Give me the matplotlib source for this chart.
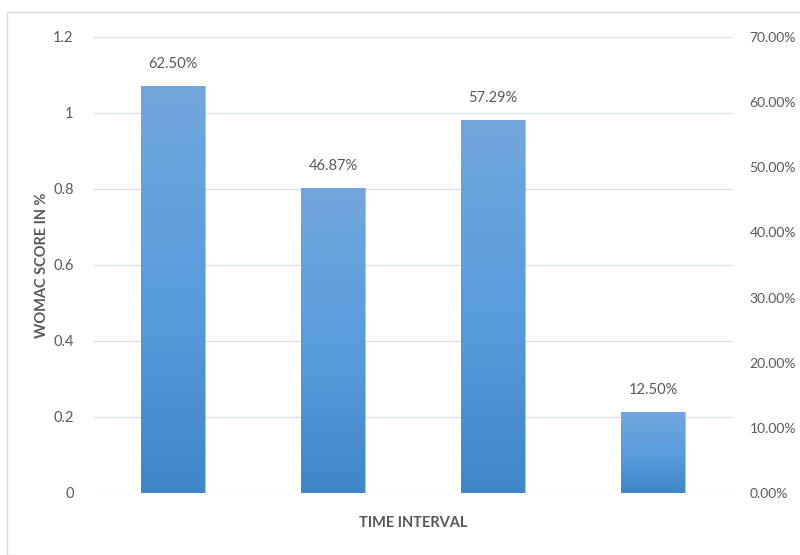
import matplotlib
matplotlib.use("Agg")
import matplotlib.pyplot as plt
import numpy as np
from matplotlib.patches import Rectangle
from matplotlib.colors import LinearSegmentedColormap

categories = ["1", "2", "3", "4"]
values_pct = [62.50, 46.87, 57.29, 12.50]
left_ticks = [0, 0.2, 0.4, 0.6, 0.8, 1, 1.2]
left_tick_labels = ["0", "0.2", "0.4", "0.6", "0.8", "1", "1.2"]
right_ticks = [0, 10, 20, 30, 40, 50, 60, 70]
right_tick_labels = ["0.00%", "10.00%", "20.00%", "30.00%", "40.00%", "50.00%", "60.00%", "70.00%"]

plt.rcParams['font.family'] = ['Lato', 'DejaVu Sans']
txt = "#595959"

fig = plt.figure(figsize=(8, 5.55), dpi=100)
fig.patches.append(Rectangle((7/800, 0), 1, 1 - 12/555, transform=fig.transFigure,
                             fill=False, edgecolor="#d9d9d9", linewidth=1.0))
ax = fig.add_axes([93/800, 1 - 493/555, 640/800, 456/555])
ax2 = ax.twinx()

ax.set_ylim(0, 1.2)
ax.set_yticks(left_ticks)
ax.set_yticklabels(left_tick_labels)
ax.set_xlim(-0.5, len(categories) - 0.5)
ax.set_xticks([])
ax.grid(axis="y", color="#dde1e8", linewidth=1.0)
ax.set_axisbelow(True)
for s in ax.spines.values():
    s.set_visible(False)
for s in ax2.spines.values():
    s.set_visible(False)
ax.tick_params(axis="y", length=0, pad=14, labelsize=10.5, labelcolor=txt)

ax2.set_ylim(0, 70)
ax2.set_yticks(right_ticks)
ax2.set_yticklabels(right_tick_labels)
ax2.tick_params(axis="y", length=0, pad=12, labelsize=10, labelcolor=txt)

cmap = LinearSegmentedColormap.from_list("g", ["#3f87c8", "#5a9ddc", "#72a7dc"])
grad = np.linspace(0, 1, 256).reshape(-1, 1)
x = np.arange(len(categories))
bars = ax2.bar(x, values_pct, width=0.4, color="none", edgecolor="#8fbbe6", linewidth=0.6)
for b, v in zip(bars, values_pct):
    x0 = b.get_x(); w = b.get_width(); h = b.get_height()
    im = ax2.imshow(grad, cmap=cmap, origin="lower", aspect="auto",
                    extent=[x0, x0 + w, 0, h], zorder=1)
    im.set_clip_path(b)
    ax2.text(x0 + w / 2, h + 2.3, f"{v:.2f}%", ha="center", va="bottom",
             fontsize=10.5, color=txt)
ax2.set_xlim(-0.5, len(categories) - 0.5)
ax2.set_ylim(0, 70)

fig.text(413/800, 1 - 523/555, "TIME INTERVAL", ha="center", va="center",
         fontsize=10.5, fontweight="bold", color=txt)
fig.text(42/800, 1 - 265/555, "WOMAC SCORE IN %", ha="center", va="center",
         rotation=90, fontsize=10.5, fontweight="bold", color=txt)

fig.savefig("out.png", dpi=100)
